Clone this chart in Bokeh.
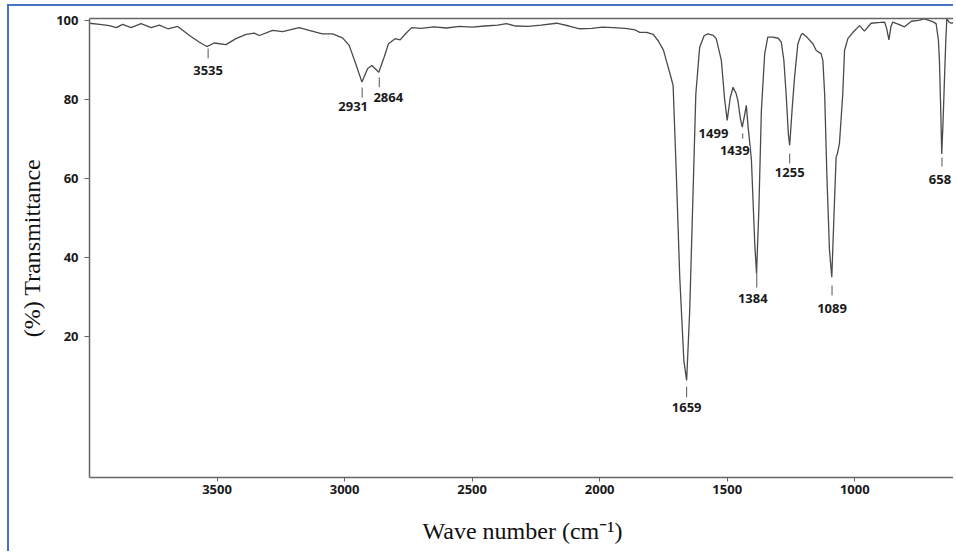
from bokeh.plotting import figure
from bokeh.models import Range1d, LinearAxis, FixedTicker, ColumnDataSource
from bokeh.core.properties import value
from bokeh.embed import file_html
from bokeh.resources import INLINE

# ---- data ----
wavenumber = [4000, 3960, 3922, 3895, 3870, 3837, 3798, 3758, 3726, 3693, 3654, 3608,
              3569, 3540, 3511, 3465, 3426, 3386, 3354, 3334, 3282, 3243, 3178, 3139,
              3087, 3047, 3008, 2982, 2956, 2932, 2910, 2893, 2866, 2845, 2828, 2802,
              2782, 2763, 2737, 2700, 2650, 2600, 2550, 2500, 2450, 2400, 2365, 2330,
              2280, 2230, 2169, 2120, 2078, 2030, 1990, 1947, 1900, 1860, 1843, 1816,
              1790, 1770, 1750, 1735, 1720, 1712, 1700, 1686, 1670, 1659, 1647, 1634,
              1623, 1608, 1590, 1575, 1555, 1543, 1523, 1510, 1500, 1488, 1477, 1465,
              1458, 1448, 1441, 1432, 1425, 1418, 1410, 1405, 1392, 1385, 1376, 1366,
              1353, 1341, 1321, 1300, 1288, 1278, 1269, 1260, 1255, 1245, 1236, 1223,
              1210, 1204, 1185, 1164, 1151, 1132, 1125, 1118, 1109, 1099, 1090, 1083,
              1073, 1068, 1060, 1047, 1040, 1027, 1007, 981, 962, 936, 900, 883, 875,
              866, 858, 851, 830, 805, 778, 750, 727, 695, 681, 672, 668, 662, 659,
              654, 648, 643, 639, 630, 622, 605]
transmittance = [99.3, 99.0, 98.7, 98.2, 99.0, 98.2, 99.2, 98.2, 98.8, 97.9, 98.5, 96.2,
                 94.5, 93.4, 94.3, 93.9, 95.4, 96.5, 96.8, 96.2, 97.5, 97.2, 98.2, 97.5,
                 96.6, 96.6, 95.6, 93.7, 89.0, 84.4, 87.8, 88.6, 86.9, 90.7, 94.1, 95.4,
                 95.1, 96.5, 98.2, 98.0, 98.4, 98.1, 98.5, 98.3, 98.6, 98.8, 99.2, 98.6,
                 98.5, 98.8, 99.3, 98.6, 97.9, 98.0, 98.3, 98.2, 98.0, 97.6, 97.0, 97.0,
                 96.5, 94.8, 92.5, 89.0, 85.5, 83.5, 62.0, 35.0, 13.9, 8.9, 26.6, 56.1,
                 81.4, 93.2, 96.2, 96.6, 96.2, 95.4, 89.9, 80.0, 74.7, 80.5, 83.1, 81.5,
                 79.7, 75.0, 73.0, 76.0, 78.5, 73.0, 68.0, 64.6, 43.5, 35.9, 51.9, 77.2,
                 91.6, 95.8, 95.8, 95.5, 94.5, 90.0, 81.4, 71.0, 68.4, 78.0, 85.6, 94.1,
                 96.4, 96.7, 95.6, 94.1, 92.4, 91.6, 89.9, 81.4, 60.3, 41.8, 35.0, 47.7,
                 65.4, 66.3, 68.8, 81.4, 92.4, 95.4, 97.0, 98.7, 97.3, 99.3, 99.5, 99.6, 98.0,
                 95.1, 98.5, 99.6, 99.1, 98.4, 99.8, 100.0, 100.4, 99.7, 99.2, 95.0, 89.9, 75.0, 66.2,
                 74.0, 85.6, 95.0, 100.4, 99.6, 99.3, 99.6]

peak_wn = [3535, 2931, 2864, 1659, 1499, 1439, 1384, 1255, 1089, 658]
peak_labels = ["3535", "2931", "2864", "1659", "1499", "1439", "1384", "1255", "1089", "658"]

x_ticks = [1000, 1500, 2000, 2500, 3000, 3500]
y_ticks = [20, 40, 60, 80, 100]

# ---- annotation layout (placement only) ----
mark_top = [92.9, 83.0, 85.6, 7.3, None, 71.4, 35.9, 66.3, 32.9, 65.3]
mark_bot = [90.4, 80.5, 83.1, 4.6, None, 70.1, 32.4, 63.8, 30.4, 63.0]
label_y = [87.3, 78.3, 80.5, 2.0, 71.4, 67.1, 29.6, 61.5, 27.1, 59.7]
label_dx = [0, -9, 9, 0, -14, -8, -4, 0, 0, -2]

p = figure(width=946, height=547,
           x_range=Range1d(4000, 605), y_range=Range1d(-15.7, 100.5),
           output_backend="svg", toolbar_location=None,
           min_border_left=80, min_border_right=0, min_border_top=12, min_border_bottom=76)
p.styles = {"border-left": "2px solid #4472C4", "border-top": "2px solid #4472C4",
            "margin-left": "7px", "margin-top": "4px"}
p.outline_line_color = None
p.grid.visible = False
p.background_fill_color = "white"
p.border_fill_color = "white"

p.line(wavenumber, transmittance, line_color="#4a4a4a", line_width=1.3)

mk = [(w, t, b) for w, t, b in zip(peak_wn, mark_top, mark_bot) if t is not None]
p.segment(x0=[m[0] for m in mk], y0=[m[1] for m in mk],
          x1=[m[0] for m in mk], y1=[m[2] for m in mk],
          line_color="#555555", line_width=1)

src = ColumnDataSource(dict(x=peak_wn, y=label_y, t=peak_labels, dx=label_dx))
p.text(x="x", y="y", text="t", x_offset="dx", source=src,
       text_font=value("Open Sans"), text_font_style="bold", text_font_size="13px",
       text_color="#1a1a1a", text_align="center", text_baseline="middle",
       background_fill_color="white")

tick_font = "Open Sans"
xa = p.xaxis[0]
xa.ticker = FixedTicker(ticks=x_ticks)
ya = p.yaxis[0]
ya.ticker = FixedTicker(ticks=y_ticks)
for ax in (xa, ya):
    ax.axis_line_color = "#666666"
    ax.axis_line_width = 1.5
    ax.major_tick_line_color = "#666666"
    ax.major_tick_in = 0
    ax.major_tick_out = 5
    ax.minor_tick_line_color = None
    ax.major_label_text_font = tick_font
    ax.major_label_text_font_style = "bold"
    ax.major_label_text_font_size = "13px"
    ax.major_label_text_color = "#1a1a1a"
    ax.axis_label_text_font = "Liberation Serif"
    ax.axis_label_text_font_style = "normal"
    ax.axis_label_text_font_size = "24px"
    ax.axis_label_text_color = "#111111"
xa.major_tick_out = 4
xa.major_label_standoff = 3
ya.major_label_standoff = 6
xa.axis_label = "Wave number (cm\u207b\u00b9)"
ya.axis_label = "(%) Transmittance"
xa.axis_label_standoff = 21
ya.axis_label_standoff = 8

top = LinearAxis(ticker=FixedTicker(ticks=[]), axis_line_color="#666666", axis_line_width=1.5,
                 major_tick_out=0, major_tick_in=0, minor_tick_line_color=None,
                 major_label_standoff=0, major_label_text_font_size="1px")
p.add_layout(top, "above")

open("out.html", "w").write(file_html(p, INLINE))
